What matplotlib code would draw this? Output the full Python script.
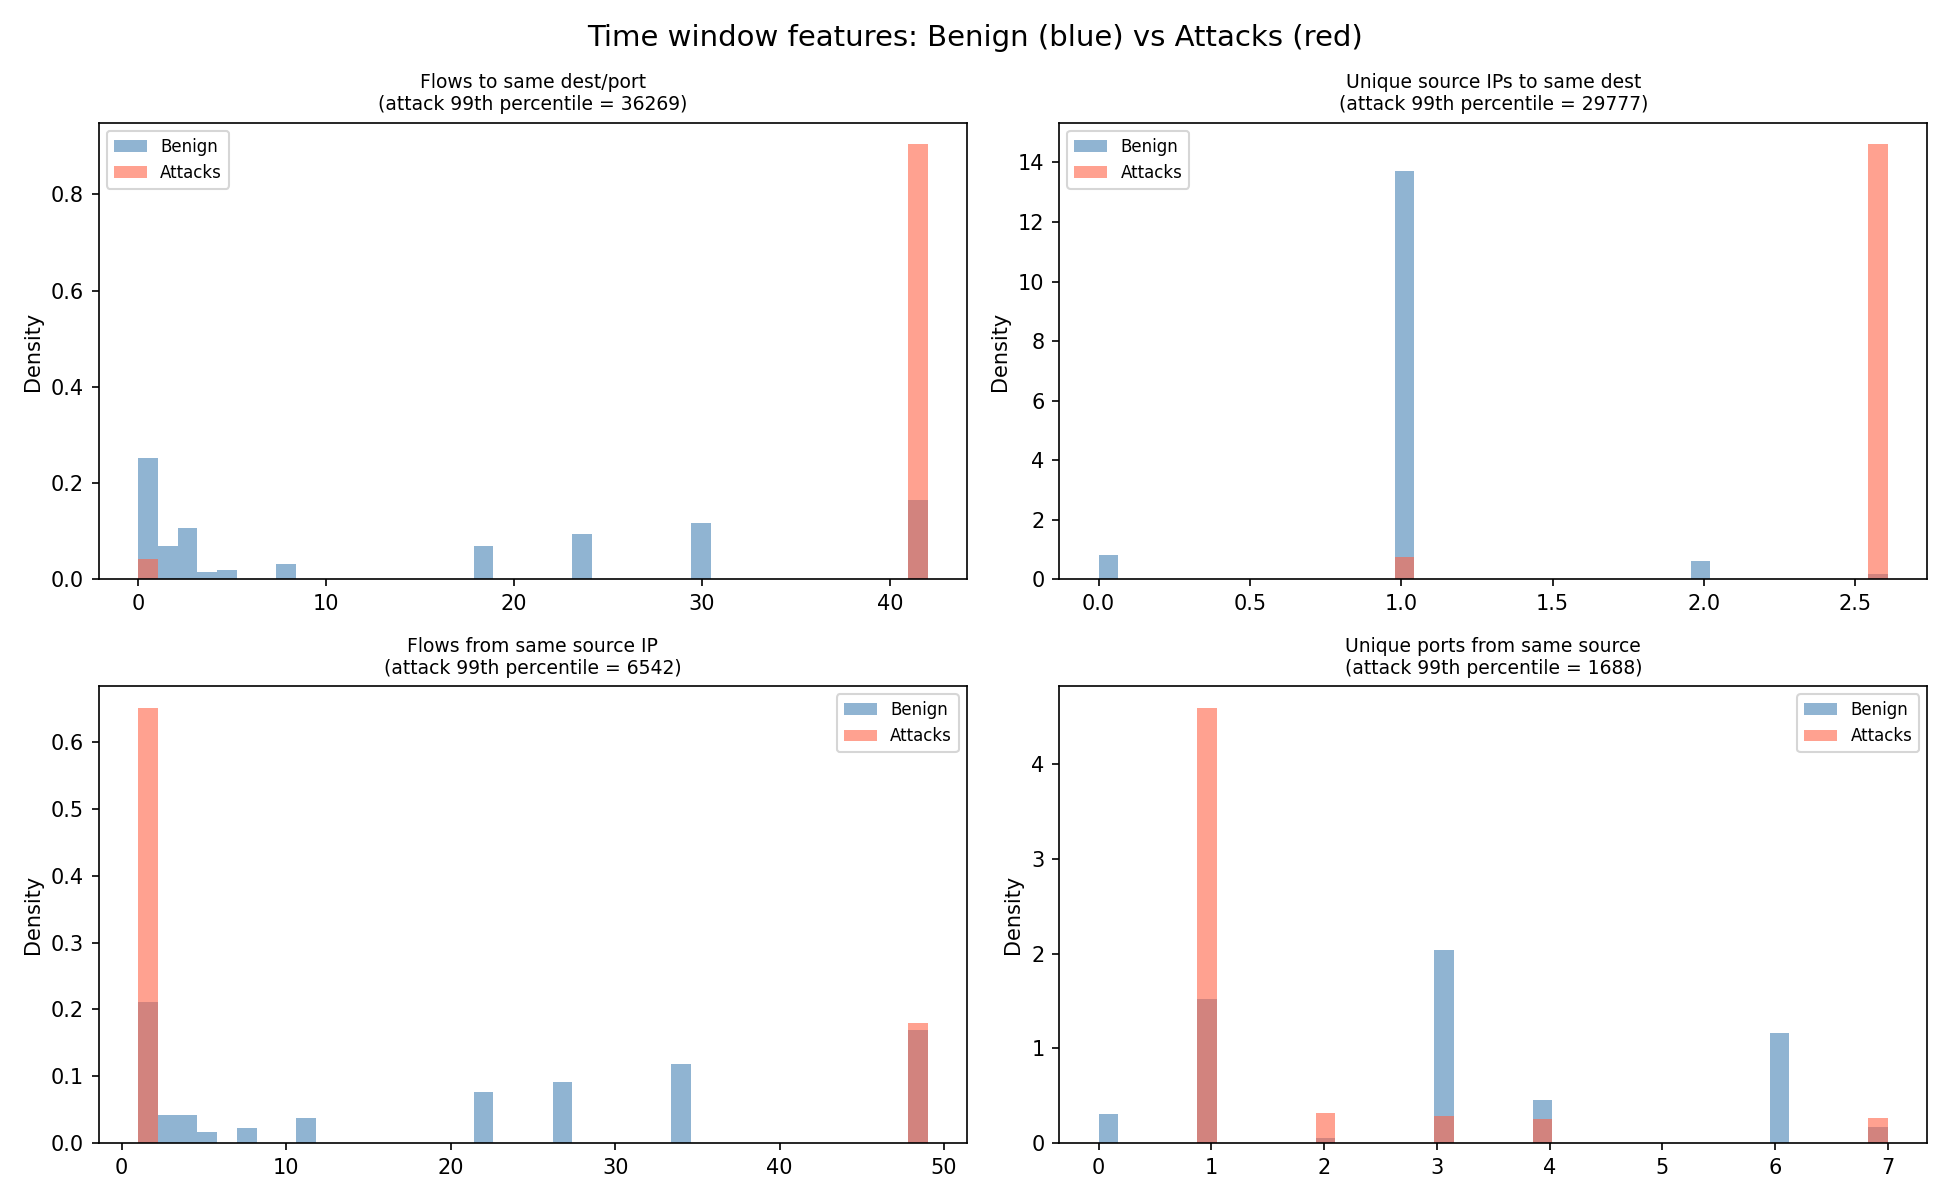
import numpy as np
import matplotlib
matplotlib.use("Agg")
import matplotlib.pyplot as plt

# panel titles and the 99th percentile of the attack values
titles = ["Flows to same dest/port", "Unique source IPs to same dest",
          "Flows from same source IP", "Unique ports from same source"]
p99 = [36269, 29777, 6542, 1688]

# histogram range of each panel (40 bins each)
ranges = [(0.0, 42.0), (0.0, 2.608), (1.0, 49.0), (0.0, 7.0)]
n_bins = 40

# density per non-empty bin, {bin index: density}
benign1 = {0: 0.253, 1: 0.070, 2: 0.106, 3: 0.016, 4: 0.020, 7: 0.031,
           17: 0.070, 22: 0.095, 28: 0.118, 39: 0.166}
attack1 = {0: 0.043, 39: 0.904}

benign2 = {0: 0.83, 15: 13.70, 30: 0.63, 39: 0.19}
attack2 = {15: 0.74, 39: 14.61}

benign3 = {0: 0.211, 1: 0.0415, 2: 0.0415, 3: 0.017, 5: 0.023, 8: 0.038,
           17: 0.076, 21: 0.092, 27: 0.118, 39: 0.169}
attack3 = {0: 0.652, 39: 0.180}

benign4 = {0: 0.303, 5: 1.522, 11: 0.047, 17: 2.04, 22: 0.449, 34: 1.16, 39: 0.164}
attack4 = {5: 4.595, 11: 0.314, 17: 0.281, 22: 0.252, 39: 0.259}

benign = [benign1, benign2, benign3, benign4]
attacks = [attack1, attack2, attack3, attack4]
legend_loc = ["upper left", "upper left", "upper right", "upper right"]


def drawHist(ax, edges, dens, color, label):
	centers = (edges[:-1] + edges[1:]) / 2
	w = np.zeros(n_bins)
	for k, v in dens.items():
		w[k] = v
	ax.hist(centers, bins=edges, weights=w, color=color, alpha=0.6, label=label)


fig, axes = plt.subplots(2, 2, figsize=(13, 8), dpi=150)
for i, ax in enumerate(axes.flat):
	lo, hi = ranges[i]
	edges = np.linspace(lo, hi, n_bins + 1)
	drawHist(ax, edges, benign[i], "steelblue", "Benign")
	drawHist(ax, edges, attacks[i], "tomato", "Attacks")
	ax.set_title(f"{titles[i]}\n(attack 99th percentile = {p99[i]})", fontsize=9)
	ax.set_ylabel("Density")
	ax.legend(fontsize=8, loc=legend_loc[i])

fig.suptitle("Time window features: Benign (blue) vs Attacks (red)", fontsize=14)
plt.tight_layout()
plt.savefig("out.png")
